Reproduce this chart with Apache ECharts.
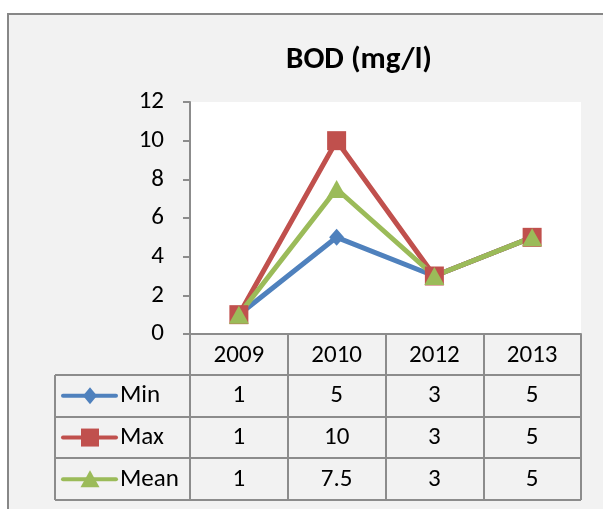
<!DOCTYPE html>
<html>
<head>
<meta charset="utf-8">
<script src="https://cdn.jsdelivr.net/npm/echarts@6/dist/echarts.min.js"></script>
<style>
html, body { margin: 0; padding: 0; background: #fff; }
#main { width: 603px; height: 509px; }
</style>
</head>
<body>
<div id="main"></div>
<script>
// data
var years = ['2009', '2010', '2012', '2013'];
var minVals = [1, 5, 3, 5];
var maxVals = [1, 10, 3, 5];
var meanVals = [1, 7.5, 3, 5];
var seriesNames = ['Min', 'Max', 'Mean'];
var yTicks = [0, 2, 4, 6, 8, 10, 12];

var colors = ['#4f81bd', '#c0504d', '#9bbb59'];
var font = 'Carlito, Lato, sans-serif';
var gridColor = '#8c8c8c';

var myChart = echarts.init(document.getElementById('main'));

myChart.setOption({
    animation: false,
    backgroundColor: '#ffffff',
    title: {
        text: 'BOD (mg/l)',
        left: 281,
        top: 40,
        textStyle: { fontFamily: font, fontSize: 31, fontWeight: 'bold', color: '#000' }
    },
    grid: { left: 190, right: 22, top: 102, bottom: 175, show: true, backgroundColor: '#fff', borderWidth: 0 },
    xAxis: {
        type: 'category',
        data: years,
        boundaryGap: true,
        axisLine: { lineStyle: { color: gridColor, width: 2 } },
        axisTick: { show: true, length: 166, lineStyle: { color: gridColor, width: 2 } },
        axisLabel: { margin: 9, fontFamily: font, fontSize: 25, color: '#000' }
    },
    yAxis: {
        type: 'value',
        min: yTicks[0],
        max: yTicks[yTicks.length - 1],
        interval: 2,
        axisLine: { show: true, lineStyle: { color: gridColor, width: 2 } },
        axisTick: { show: true, length: 7, lineStyle: { color: gridColor, width: 2 } },
        splitLine: { show: false },
        axisLabel: { margin: 26, fontFamily: font, fontSize: 25, color: '#000' }
    },
    series: [
        {
            name: seriesNames[0], type: 'line', data: minVals,
            symbol: 'diamond', symbolSize: [15, 17],
            lineStyle: { color: colors[0], width: 5 },
            itemStyle: { color: colors[0] }
        },
        {
            name: seriesNames[1], type: 'line', data: maxVals,
            symbol: 'rect', symbolSize: 19,
            lineStyle: { color: colors[1], width: 5 },
            itemStyle: { color: colors[1] }
        },
        {
            name: seriesNames[2], type: 'line', data: meanVals,
            symbol: 'triangle', symbolSize: [20, 18],
            lineStyle: { color: colors[2], width: 5 },
            itemStyle: { color: colors[2] }
        }
    ]
});

// data table under the axis, built from the arrays
function buildTable() {
    var els = [];
    // panel background and its border
    els.push({
        type: 'rect', z: -10, silent: true,
        shape: { x: 8, y: 14, width: 700, height: 600 },
        style: { fill: '#f2f2f2', stroke: '#878787', lineWidth: 2 }
    });
    els.push({
        type: 'rect', z: -9, silent: true,
        shape: { x: 190, y: 102, width: 391, height: 232 },
        style: { fill: '#ffffff' }
    });
    var rows = [minVals, maxVals, meanVals];
    var rowTop = 375, rowH = 41.7;
    var tableLeft = 55, tableRight = 581;
    for (var r = 0; r <= rows.length; r++) {
        var y = Math.round(rowTop + r * rowH);
        els.push({
            type: 'line', silent: true,
            shape: { x1: tableLeft, y1: y, x2: tableRight, y2: y },
            style: { stroke: gridColor, lineWidth: 2 }
        });
    }
    els.push({
        type: 'line', silent: true,
        shape: { x1: tableLeft, y1: rowTop, x2: tableLeft, y2: Math.round(rowTop + rows.length * rowH) },
        style: { stroke: gridColor, lineWidth: 2 }
    });
    for (var r = 0; r < rows.length; r++) {
        var cy = rowTop + r * rowH + rowH / 2;
        // legend key
        els.push({
            type: 'line', silent: true,
            shape: { x1: 63, y1: cy, x2: 116, y2: cy },
            style: { stroke: colors[r], lineWidth: 4, lineCap: 'round' }
        });
        if (r === 0) {
            els.push({ type: 'polygon', silent: true,
                shape: { points: [[90, cy - 8.5], [97, cy], [90, cy + 8.5], [83, cy]] },
                style: { fill: colors[r] } });
        } else if (r === 1) {
            els.push({ type: 'rect', silent: true,
                shape: { x: 81, y: cy - 9, width: 18, height: 18 },
                style: { fill: colors[r] } });
        } else {
            els.push({ type: 'polygon', silent: true,
                shape: { points: [[90, cy - 9], [99.5, cy + 8], [80.5, cy + 8]] },
                style: { fill: colors[r] } });
        }
        els.push({
            type: 'text', silent: true,
            style: { text: seriesNames[r], x: 120, y: cy, textVerticalAlign: 'middle',
                font: '25px ' + font, fill: '#000' }
        });
        for (var c = 0; c < years.length; c++) {
            var cx = myChart.convertToPixel({ xAxisIndex: 0 }, c);
            els.push({
                type: 'text', silent: true,
                style: { text: String(rows[r][c]), x: cx, y: cy, textAlign: 'center',
                    textVerticalAlign: 'middle', font: '25px ' + font, fill: '#000' }
            });
        }
    }
    myChart.setOption({ graphic: { elements: els } });
}
buildTable();
</script>
</body>
</html>
